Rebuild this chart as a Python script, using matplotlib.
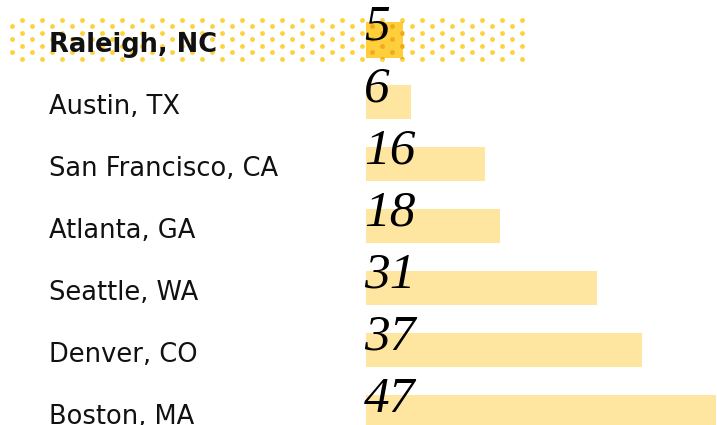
import numpy as np
import matplotlib
matplotlib.use("Agg")
import matplotlib.pyplot as plt
import matplotlib.transforms as mtransforms

cities = ["Raleigh, NC", "Austin, TX", "San Francisco, CA", "Atlanta, GA",
          "Seattle, WA", "Denver, CO", "Boston, MA"]
values = [5, 6, 16, 18, 31, 37, 47]
highlight = "Raleigh, NC"

c_bar = '#FFE6A0'
c_hi = '#FECF3A'
c_dot = '#FDD23A'
c_dot_dark = '#F0A820'

W, H = 717, 425
fig = plt.figure(figsize=(W / 100, H / 100), dpi=100)

# background layer in pixel units for the dotted highlight band
ax_bg = fig.add_axes([0, 0, 1, 1], zorder=0)
ax_bg.set_xlim(0, W)
ax_bg.set_ylim(H, 0)
ax_bg.axis('off')

dot_x, dot_y = [], []
for k in range(7):
    y = 19.5 + 6.55 * k
    x0 = 21.7 if k % 2 == 0 else 11.7
    for j in range(26):
        dot_x.append(x0 + 20 * j)
        dot_y.append(y)
ax_bg.scatter(dot_x, dot_y, s=12, color=c_dot, linewidths=0)

ax = fig.add_axes([0, 0, 1, 1], zorder=1)
ax.patch.set_alpha(0)
ax.axis('off')
px = 7.45  # pixels per unit
ax.set_xlim(-366 / px, (W - 366) / px)
ax.set_ylim((H - 40) / 62, -40 / 62)

ypos = np.arange(len(cities))
colors = [c_hi if c == highlight else c_bar for c in cities]
heights = [0.58 if c == highlight else 0.55 for c in cities]
bars = ax.barh(ypos, values, height=heights, color=colors, linewidth=0, zorder=1)

# darker dots where the band crosses the highlighted bar
hi_idx = cities.index(highlight)
dark = ax.scatter(dot_x, dot_y, s=12, color=c_dot_dark, linewidths=0,
                  transform=ax_bg.transData, zorder=2)
dark.set_clip_path(bars[hi_idx])

label_tr = mtransforms.blended_transform_factory(fig.transFigure, ax.transData)
label_tr = label_tr + mtransforms.ScaledTranslation(0, -8.6 / 72, fig.dpi_scale_trans)
for i, (city, v) in enumerate(zip(cities, values)):
    bold = city == highlight
    ax.text(49 / W, i, city, transform=label_tr, ha='left', va='baseline',
            fontsize=18.5, family='DejaVu Sans',
            fontweight='bold' if bold else 'normal', color='#111111', zorder=4)
    ax.text(-0.3, i, str(v), ha='left', va='baseline', fontsize=37,
            family='Liberation Serif', style='italic', color='black', zorder=4)

fig.savefig('out.png', dpi=100)
